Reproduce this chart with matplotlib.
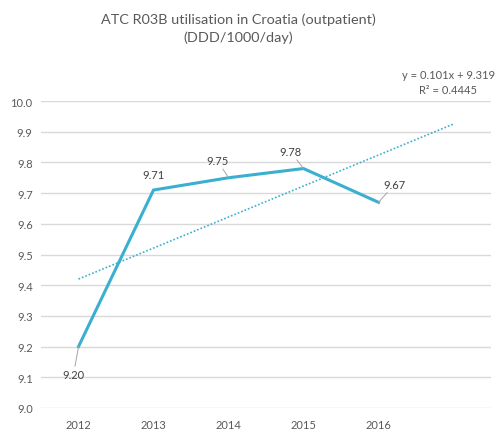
import numpy as np
import matplotlib
matplotlib.use("Agg")
import matplotlib.pyplot as plt

plt.rcParams['font.family'] = ['Lato', 'DejaVu Sans']

years = ['2012', '2013', '2014', '2015', '2016']
ddd = [9.20, 9.71, 9.75, 9.78, 9.67]
# label offsets (pixels) from each point, Excel-style placement
label_off = [(-5, -28), (0, 16), (-11, 17), (-13, 17), (16, 18)]

line_col = '#3AAFD0'
txt_col = '#595959'
grid_col = '#D9D9D9'

fig = plt.figure(figsize=(4.99, 4.31), dpi=100)
ax = fig.add_axes([41 / 499, 22 / 431, 450 / 499, 307 / 431])

x = np.arange(len(years))
ax.plot(x, ddd, color=line_col, lw=2.2, solid_joinstyle='miter', zorder=3)

# linear trend, Excel x = 1..n, forecast forward one period
slope, icpt = np.polyfit(x + 1, ddd, 1)
tx = np.array([0, len(years)])
ax.plot(tx, slope * (tx + 1) + icpt, color=line_col, lw=1.2,
        linestyle=(0, (1, 1.2)), zorder=2)

for xi, v, off in zip(x, ddd, label_off):
    arrow = None if xi == 1 else dict(arrowstyle='-', color='#A6A6A6', lw=0.7,
                                      shrinkA=0, shrinkB=0)
    ax.annotate(f'{v:.2f}', (xi, v), xytext=off, textcoords='offset pixels',
                ha='center', va='center', fontsize=8, color='#404040',
                arrowprops=arrow, zorder=4)

ax.text(4.93, 10.062, f'y = {slope:.3f}x + {icpt:.3f}\nR² = 0.4445',
        ha='center', va='center', fontsize=8, color=txt_col,
        linespacing=1.45)

ax.set_xlim(-0.5, len(years) + 0.5)
ax.set_ylim(9.0, 10.0)
ax.set_yticks(np.arange(9.0, 10.01, 0.1))
ax.set_yticklabels([f'{t:.1f}' for t in np.arange(9.0, 10.01, 0.1)])
ax.set_xticks(x)
ax.set_xticklabels(years)
ax.tick_params(axis='both', length=0, labelsize=8, colors=txt_col)
ax.tick_params(axis='x', pad=8)
ax.tick_params(axis='y', pad=6)
for s in ax.spines.values():
    s.set_visible(False)
ax.grid(axis='y', color=grid_col, lw=1)
ax.set_axisbelow(True)

fig.text(238 / 499, 1 - 29 / 431, 'ATC R03B utilisation in Croatia (outpatient)\n(DDD/1000/day)',
         ha='center', va='center', fontsize=10.4, color=txt_col, linespacing=1.5)

fig.savefig('out.png', dpi=100)
